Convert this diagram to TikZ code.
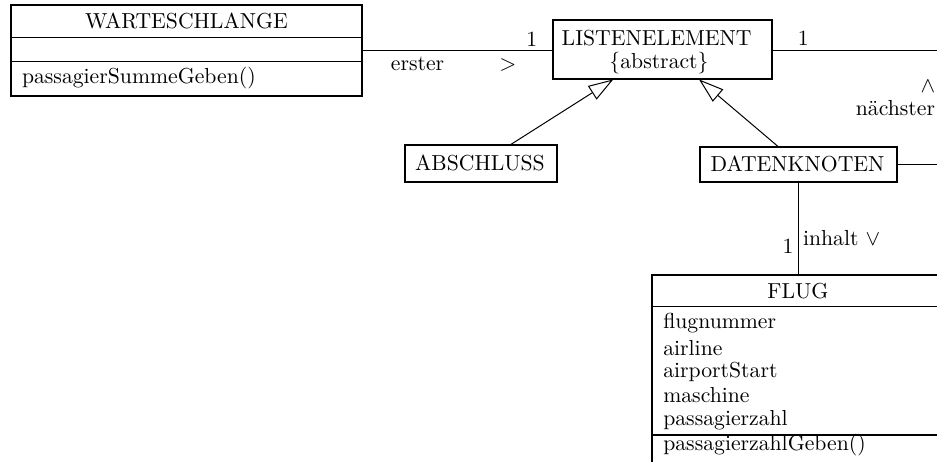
\documentclass[tikz,border=0pt]{standalone}
\usetikzlibrary{arrows.meta,calc}
\begin{document}
\begin{tikzpicture}[x=0.5pt,y=-0.5pt,
  font=\fontsize{10.85}{13}\selectfont,
  classbox/.style={draw,line width=1pt,inner sep=0pt,outer sep=0pt},
  conn/.style={line width=0.5pt},
  gen/.style={line width=0.5pt,-{Triangle[open,length=12.5pt,width=8pt]}},
  lbl/.style={inner sep=0pt,outer sep=0pt}]
\useasboundingbox (0,0) rectangle (937,461);
\clip (0,0) rectangle (937,461);

% WARTESCHLANGE
\node[classbox,minimum width=175.5pt,minimum height=45.25pt] (w) at (186.5,50.25) {};
\draw[line width=0.5pt] (w.west |- 0,37.7) -- (w.east |- 0,37.7);
\draw[line width=0.5pt] (w.west |- 0,61.7) -- (w.east |- 0,61.7);
\node[lbl,anchor=base] (wt) at (186.5,28.3) {WARTESCHLANGE};
\node[lbl,anchor=base west] (wm) at (22,83.3) {passagierSummeGeben()};

% LISTENELEMENT
\node[classbox,minimum width=109.2pt,minimum height=29.7pt] (le) at (662.5,49.7) {};
\node[lbl,anchor=base] (let) at (656.7,45) {LISTENELEMENT};
\node[lbl,anchor=base] (lea) at (659,68) {\{abstract\}};

% ABSCHLUSS
\node[classbox,minimum width=75.8pt,minimum height=18.3pt] (ab) at (480.8,163.3) {};
\node[lbl,anchor=base] (abt) at (480,170) {ABSCHLUSS};

% DATENKNOTEN
\node[classbox,minimum width=98.3pt,minimum height=17.5pt] (dk) at (798.3,164.2) {};
\node[lbl,anchor=base] (dkt) at (797.5,171.5) {DATENKNOTEN};

% FLUG
\node[classbox,minimum width=146pt,minimum height=97.5pt] (fl) at (797.7,372.5) {};
\node[lbl,anchor=base] (flt) at (798,298.3) {FLUG};
\draw[line width=0.5pt] (fl.west |- 0,306.7) -- (fl.east |- 0,306.7);
\draw[line width=1pt] (fl.west |- 0,435) -- (fl.east |- 0,435);
\node[lbl,anchor=base west] (fa1) at (663.3,328.3) {flugnummer};
\node[lbl,anchor=base west] (fa2) at (663.3,355) {airline};
\node[lbl,anchor=base west] (fa3) at (663.3,377.3) {airportStart};
\node[lbl,anchor=base west] (fa4) at (663.3,402.7) {maschine};
\node[lbl,anchor=base west] (fa5) at (663.3,425) {passagierzahl};
\node[lbl,anchor=base west] (fm1) at (663.3,450) {passagierzahlGeben()};

% free ends at right edge
\coordinate (nr1) at (940,50);
\coordinate (nr2) at (940,164);

% connectors
\draw[conn] (w.east) -- (w.east -| le.west);
\draw[conn] (le.east |- nr1) -- (nr1);
\draw[conn] (dk.east |- nr2) -- (nr2);
\draw[conn] (dk.south) -- (dk.south |- fl.north);
\draw[gen] ([xshift=14.6pt]ab.north) -- ([xshift=-24.6pt]le.south);
\draw[gen] ([xshift=-10pt]dk.north) -- ([xshift=18.25pt]le.south);

% labels
\node[lbl,anchor=base] (m1) at (531.7,46) {1};
\node[lbl,anchor=base] (rn1) at (417.5,70) {erster};
\node[lbl,anchor=base] (rd1) at (508,70) {$>$};
\node[lbl,anchor=base] (m2) at (803.3,45) {1};
\node[lbl,anchor=base] (rd2) at (928,92) {$\wedge$};
\node[lbl,anchor=base east] (rn2) at (935,115) {nächster};
\node[lbl,anchor=base] (m3) at (788,253) {1};
\node[lbl,anchor=base west] (rn3) at (803,245) {inhalt $\vee$};
\end{tikzpicture}
\end{document}
